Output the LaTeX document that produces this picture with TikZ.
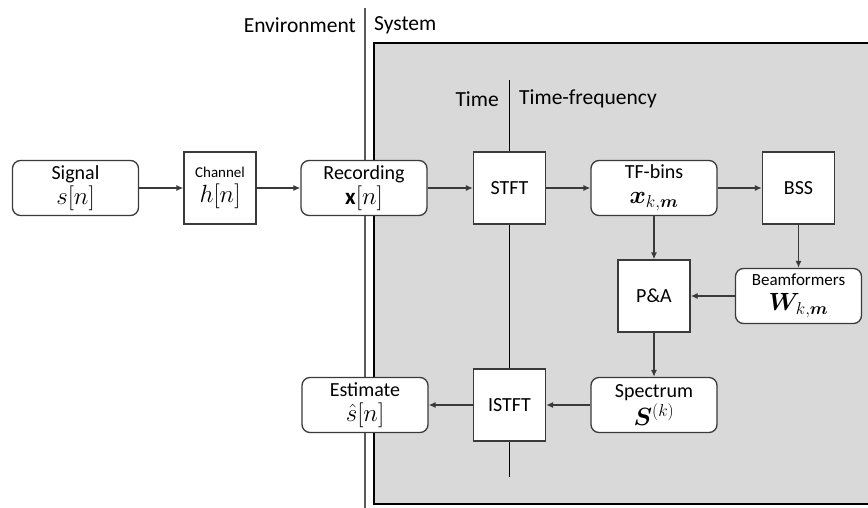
\documentclass[tikz,border=0pt]{standalone}
\usepackage{fontspec}
\usepackage{amsmath,amssymb,bm}
\setmainfont{Carlito}
\usetikzlibrary{arrows.meta}

\definecolor{sysgray}{HTML}{D9D9D9}
\definecolor{linegray}{HTML}{3A3A3A}

% symbols in the blocks are set a bit larger than the labels
\newcommand{\blockmath}[1]{{\fontsize{23}{26}\selectfont$#1$}}

\begin{document}
\begin{tikzpicture}[x=1pt,y=-1pt,
    every node/.style={font=\fontsize{20}{24}\selectfont, align=center},
    rbox/.style={draw=linegray, line width=1.3pt, fill=white, rounded corners=8pt,
                 minimum width=126pt, minimum height=55pt, inner sep=0pt},
    sbox/.style={draw=linegray, line width=1.3pt, fill=white,
                 minimum width=72pt, minimum height=72pt, inner sep=0pt},
    flow/.style={draw=linegray, line width=1.3pt, -{Latex[length=7pt,width=6pt]}},
    head/.style={font=\fontsize{21.5}{24}\selectfont, inner sep=0pt}]

    \useasboundingbox (0,0) rectangle (868,508);

    % system area and domain borders
    \fill[sysgray, draw=black, line width=1.2pt] (374,43) rectangle (900,504);
    \draw[gray!70!black, line width=2pt] (365,8) -- (365,508);
    \draw[black, line width=1pt] (509,80) -- (509,477);

    \node[head, anchor=east] (env) at (356,25) {Environment};
    \node[head, anchor=west] (sys) at (374,25) {System};
    \node[head, anchor=east] (time) at (499,99) {Time};
    \node[head, anchor=west] (tf) at (519,99) {Time-frequency};

    % blocks
    \node[rbox] (signal) at (75.5,188) {Signal\\[1pt]\blockmath{s[n]}};
    \node[sbox] (channel) at (220,188) {{\fontsize{15}{18}\selectfont Channel}\\[1pt]\blockmath{h[n]}};
    \node[rbox] (rec) at (364,188) {Recording\\[1pt]\blockmath{\mathbf{x}[n]}};
    \node[sbox] (stft) at (509.5,188) {STFT};
    \node[rbox] (bins) at (654,188) {TF-bins\\[1pt]\blockmath{\bm{x}_{k,\bm{m}}}};
    \node[sbox] (bss) at (798.5,188) {BSS};
    \node[sbox] (pa) at (654,296) {P\&A};
    \node[rbox] (beam) at (798.5,296) {{\fontsize{17}{20}\selectfont Beamformers}\\[1pt]\blockmath{\bm{W}_{k,\bm{m}}}};
    \node[rbox] (spec) at (654,405) {Spectrum\\[1pt]\blockmath{\bm{S}^{(k)}}};
    \node[sbox] (istft) at (509.5,405) {ISTFT};
    \node[rbox] (est) at (365,405) {Estimate\\[1pt]\blockmath{\hat{s}[n]}};

    % signal flow
    \draw[flow] (signal) -- (channel);
    \draw[flow] (channel) -- (rec);
    \draw[flow] (rec) -- (stft);
    \draw[flow] (stft) -- (bins);
    \draw[flow] (bins) -- (bss);
    \draw[flow] (bins) -- (pa);
    \draw[flow] (bss) -- (beam);
    \draw[flow] (beam) -- (pa);
    \draw[flow] (pa) -- (spec);
    \draw[flow] (spec) -- (istft);
    \draw[flow] (istft) -- (est);

\end{tikzpicture}
\end{document}
